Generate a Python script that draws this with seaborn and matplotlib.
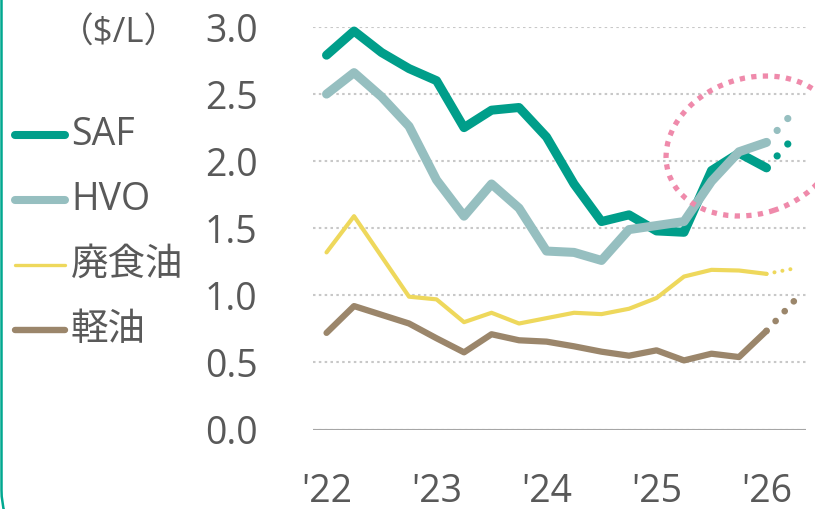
# Fuel price chart: SAF / HVO / 廃食油 / 軽油 ($/L), quarterly, with 2026 outlook
import matplotlib.pyplot as plt
import seaborn as sns
from matplotlib.lines import Line2D
from matplotlib.patches import Ellipse, FancyBboxPatch

# ---- data ----
quarters = [2022.0, 2022.25, 2022.5, 2022.75,
            2023.0, 2023.25, 2023.5, 2023.75,
            2024.0, 2024.25, 2024.5, 2024.75,
            2025.0, 2025.25, 2025.5, 2025.75,
            2026.0]
saf = [2.79, 2.97, 2.81, 2.69, 2.60, 2.25, 2.38, 2.40,
       2.18, 1.83, 1.55, 1.60, 1.48, 1.47, 1.93, 2.06, 1.95]
hvo = [2.50, 2.66, 2.48, 2.26, 1.86, 1.59, 1.83, 1.65,
       1.33, 1.32, 1.26, 1.49, 1.52, 1.55, 1.85, 2.07, 2.14]
uco = [1.32, 1.59, 1.29, 0.99, 0.97, 0.80, 0.87, 0.79,
       0.83, 0.87, 0.86, 0.90, 0.98, 1.14, 1.19, 1.185, 1.16]
diesel = [0.72, 0.92, 0.855, 0.79, 0.68, 0.575, 0.71, 0.665,
          0.655, 0.62, 0.58, 0.55, 0.59, 0.515, 0.565, 0.54, 0.735]

forecast_x = 2026.25
saf_fc = 2.18
hvo_fc = 2.37
uco_fc = 1.20
diesel_fc = 0.957

year_ticks = [2022, 2023, 2024, 2025, 2026]
year_labels = ["'22", "'23", "'24", "'25", "'26"]
y_ticks = [0.0, 0.5, 1.0, 1.5, 2.0, 2.5, 3.0]

names = ["SAF", "HVO", "廃食油", "軽油"]
colors = ["#009e8a", "#96bfc0", "#eed85c", "#9b866b"]

TEXT = "#595959"

sns.set_theme(style="white")
plt.rcParams["font.family"] = ["Open Sans", "Noto Sans CJK JP", "DejaVu Sans"]

W, H = 815, 509
fig = plt.figure(figsize=(W / 100, H / 100), dpi=100)
ax = fig.add_axes([313 / W, 79.5 / H, 493 / W, 402.5 / H])

# series: values, forecast, color, line width, dot width, dot gap
series = [
    (diesel, diesel_fc, colors[3], 4.5, 4.8, 2.0),
    (uco, uco_fc, colors[2], 3.0, 2.9, 2.0),
    (saf, saf_fc, colors[0], 6.5, 5.2, 2.2),
    (hvo, hvo_fc, colors[1], 6.5, 5.2, 2.2),
]

for vals, fc, col, lw, dlw, gap in series:
    sns.lineplot(x=quarters, y=vals, ax=ax, color=col, linewidth=lw,
                 solid_capstyle="round", solid_joinstyle="round", clip_on=False)
    sns.lineplot(x=[quarters[-1], forecast_x], y=[vals[-1], fc], ax=ax,
                 color=col, linewidth=dlw, linestyle=(0, (0.01, gap)),
                 dash_capstyle="round", clip_on=False)

ax.set_xlim(2021.877, 2026.359)
ax.set_ylim(0, 3.0)
ax.set_xticks(year_ticks)
ax.set_xticklabels(year_labels)
ax.set_yticks(y_ticks)
ax.set_yticklabels([f"{v:.1f}" for v in y_ticks])
ax.tick_params(axis="both", length=0, labelsize=27, colors=TEXT)
ax.tick_params(axis="y", pad=40)
ax.tick_params(axis="x", pad=31)
sns.despine(ax=ax, left=True, bottom=True)
ax.set_axisbelow(True)
ax.grid(axis="y", color="#c8c8c8", linewidth=1.5, linestyle=(0, (1.2, 1.6)))
ax.grid(axis="x", visible=False)
ax.axhline(0, color="#a6a6a6", linewidth=1.5, zorder=1)

# outlook highlight
ell = Ellipse((752.5 / 100, (H - 146) / 100), 1.764, 1.356, angle=18,
              transform=fig.dpi_scale_trans, fill=False, edgecolor="#ef8aab",
              linewidth=3.8, linestyle=(0, (1, 1.2)), zorder=5, clip_on=False)
fig.add_artist(ell)

# legend on the left
legend_rows = [(names[0], colors[0], 5.8, 135),
               (names[1], colors[1], 5.8, 200),
               (names[2], colors[2], 2.4, 265),
               (names[3], colors[3], 4.6, 330)]
for label, col, lw, ypix in legend_rows:
    fig.add_artist(Line2D([15 / W, 65 / W], [1 - ypix / H, 1 - ypix / H],
                          transform=fig.transFigure, color=col, linewidth=lw,
                          solid_capstyle="round"))
    fig.text(71 / W, 1 - ypix / H, label, ha="left", va="center",
             fontsize=27, color=TEXT)

fig.text(119 / W, 1 - 34 / H, "（$/L）", ha="center", va="center",
         fontsize=25, color=TEXT)

# panel frame
frame = FancyBboxPatch((0.015, -0.34), 9.0, 6.0,
                       boxstyle="round,pad=0,rounding_size=0.53",
                       transform=fig.dpi_scale_trans, fill=False,
                       edgecolor="#00a890", linewidth=1.8, clip_on=False)
fig.add_artist(frame)

fig.savefig("out.png", dpi=100)
